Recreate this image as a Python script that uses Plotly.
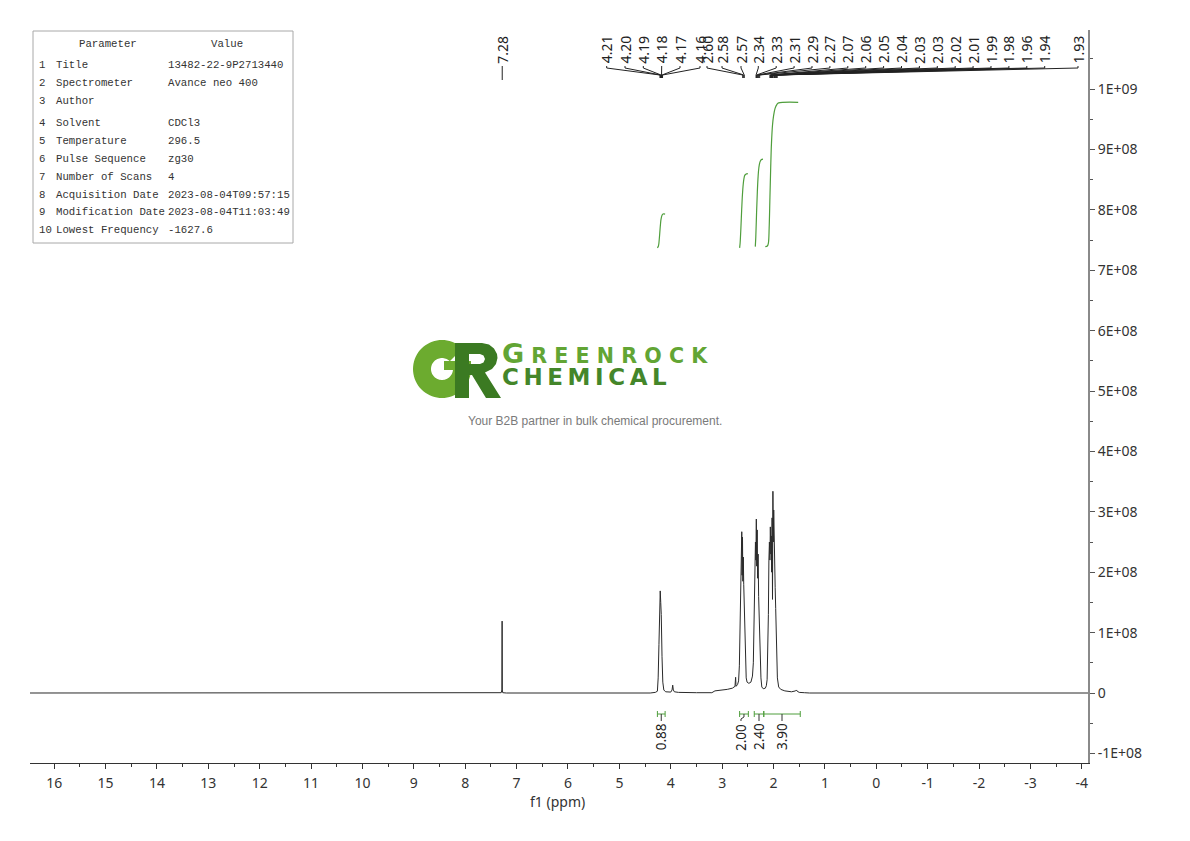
import math
import plotly.graph_objects as go

# ---------------- data ----------------
# 1H NMR trace (ppm, intensity in units of 1e8)
spec_ppm = [16.47, 7.35, 7.30, 7.287, 7.282, 7.278, 7.27, 7.20,
            4.40, 4.30, 4.26, 4.245, 4.23, 4.215, 4.205, 4.195, 4.185, 4.17, 4.155, 4.135, 4.10,
            4.00, 3.975, 3.962, 3.95, 3.93, 3.85, 3.50, 3.20, 3.14, 3.05, 2.90, 2.80, 2.75, 2.738, 2.73, 2.70, 2.68,
            2.665, 2.65, 2.638, 2.628, 2.618, 2.612, 2.604, 2.597, 2.588, 2.58, 2.572, 2.562, 2.548, 2.532, 2.515,
            2.48, 2.44, 2.41,
            2.393, 2.38, 2.365, 2.352, 2.343, 2.335, 2.327, 2.318, 2.31, 2.30, 2.29, 2.278, 2.262, 2.245, 2.228,
            2.20, 2.16, 2.14,
            2.125, 2.112, 2.10, 2.09, 2.08, 2.07, 2.062, 2.052, 2.044, 2.036, 2.028, 2.02, 2.012, 2.004, 1.996,
            1.988, 1.978, 1.968, 1.958, 1.948, 1.938, 1.925, 1.90, 1.86, 1.78, 1.65, 1.57, 1.555, 1.54, 1.50,
            1.40, 1.30, -4.12]
spec_int = [0.0, 0.0, 0.005, 0.05, 1.19, 0.05, 0.005, 0.0,
            0.0, 0.01, 0.03, 0.25, 0.8, 1.45, 1.69, 1.5, 1.3, 0.6, 0.18, 0.05, 0.02,
            0.015, 0.05, 0.13, 0.05, 0.02, 0.01, 0.005, 0.005, 0.035, 0.04, 0.06, 0.08, 0.11, 0.26, 0.11, 0.14, 0.2,
            0.45, 1.1, 1.9, 2.35, 2.67, 1.95, 2.58, 1.85, 2.25, 1.8, 1.5, 0.9, 0.45, 0.25, 0.18,
            0.16, 0.18, 0.28,
            0.5, 1.2, 2.1, 2.5, 2.2, 2.88, 2.1, 2.7, 1.9, 2.3, 1.6, 1.2, 0.6, 0.25, 0.1,
            0.07, 0.08, 0.12,
            0.22, 0.6, 1.3, 2.2, 2.5, 2.2, 2.75, 2.3, 2.6, 2.0, 2.9, 1.55, 3.34, 2.5, 3.03,
            2.3, 1.9, 1.75, 1.4, 0.9, 0.5, 0.25, 0.1, 0.06, 0.035, 0.02, 0.035, 0.05, 0.03, 0.01,
            0.005, 0.0, 0.0]

# peak picking labels (ppm)
peak_labels = ["7.28", "4.21", "4.20", "4.19", "4.18", "4.17", "4.16", "2.60", "2.58", "2.57",
               "2.34", "2.33", "2.31", "2.29", "2.27", "2.07", "2.06", "2.05", "2.04", "2.03",
               "2.03", "2.02", "2.01", "1.99", "1.98", "1.96", "1.94", "1.93"]

# integration regions
integral_start = [4.26, 2.66, 2.375, 2.19]
integral_end = [4.11, 2.49, 2.19, 1.48]
integral_labels = ["0.88", "2.00", "2.40", "3.90"]

# integral curves (ppm, value in units of 1e8 on the plot scale)
int1_ppm = [4.26, 4.24, 4.225, 4.21, 4.20, 4.19, 4.17, 4.15, 4.11]
int1_val = [7.37, 7.40, 7.50, 7.66, 7.76, 7.84, 7.91, 7.93, 7.93]
int2_ppm = [2.66, 2.65, 2.635, 2.62, 2.605, 2.59, 2.575, 2.56, 2.54, 2.50]
int2_val = [7.37, 7.45, 7.70, 8.00, 8.25, 8.42, 8.52, 8.57, 8.59, 8.60]
int3_ppm = [2.355, 2.345, 2.33, 2.315, 2.30, 2.285, 2.265, 2.24, 2.205]
int3_val = [7.39, 7.55, 7.95, 8.30, 8.55, 8.70, 8.79, 8.83, 8.84]
int4_ppm = [2.16, 2.12, 2.10, 2.085, 2.07, 2.055, 2.04, 2.02, 2.00, 1.97, 1.93, 1.90, 1.52]
int4_val = [7.39, 7.40, 7.45, 7.70, 8.20, 8.70, 9.10, 9.40, 9.55, 9.68, 9.75, 9.77, 9.78]

x_ticks = [16, 15, 14, 13, 12, 11, 10, 9, 8, 7, 6, 5, 4, 3, 2, 1, 0, -1, -2, -3, -4]
y_tick_vals = [-1e8, 0, 1e8, 2e8, 3e8, 4e8, 5e8, 6e8, 7e8, 8e8, 9e8, 1e9]
y_tick_text = ["-1E+08", "0", "1E+08", "2E+08", "3E+08", "4E+08", "5E+08",
               "6E+08", "7E+08", "8E+08", "9E+08", "1E+09"]

table_params = ["Title", "Spectrometer", "Author", "Solvent", "Temperature", "Pulse Sequence",
                "Number of Scans", "Acquisition Date", "Modification Date", "Lowest Frequency"]
table_values = ["13482-22-9P2713440", "Avance neo 400", "", "CDCl3", "296.5", "zg30", "4",
                "2023-08-04T09:57:15", "2023-08-04T11:03:49", "-1627.6"]

# ---------------- layout constants ----------------
W, H = 1190, 841
PL, PR, PT, PB = 30, 1088, 30, 763
X_RANGE = [16.47, -4.12]
Y_RANGE = [-1.159e8, 10.977e8]

# x pixel positions of peak labels (None = directly above peak)
label_px = [None, 606.7, 625, 643.3, 661.7, 680, 700, 707, 722, 741,
            758.3, 776.2, 794.1, 812, 829.9, 847.8, 865.7, 883.6, 901.5, 919.4,
            937.3, 955.2, 973.1, 991, 1008.9, 1026.8, 1044.7, 1078]
integral_label_shift_px = [0, -3, 0, 0]
table_row_y = [65.3, 83.3, 100.7, 123, 141.3, 159, 176.7, 194.7, 212.3, 230.3]

GREEN = "#4f9e3c"
FONT = "Noto Sans"


def px2ppm(px):
    return X_RANGE[0] + (px - PL) / (PR - PL) * (X_RANGE[1] - X_RANGE[0])


def ppm2px(p):
    return PL + (p - X_RANGE[0]) / (X_RANGE[1] - X_RANGE[0]) * (PR - PL)


def py2val(py):
    return Y_RANGE[0] + (PB - py) / (PB - PT) * (Y_RANGE[1] - Y_RANGE[0])


def xp(px):
    return (px - PL) / (PR - PL)


def yp(py):
    return (PB - py) / (PB - PT)


def poly(points):
    return "M " + " L ".join(f"{xp(x):.5f},{yp(y):.5f}" for x, y in points) + " Z"


fig = go.Figure()

# spectrum
fig.add_trace(go.Scatter(x=spec_ppm, y=[v * 1e8 for v in spec_int], mode="lines",
                         line=dict(color="#2a2a2a", width=1), hoverinfo="skip"))

# integral curves
for ip, iv in [(int1_ppm, int1_val), (int2_ppm, int2_val), (int3_ppm, int3_val), (int4_ppm, int4_val)]:
    fig.add_trace(go.Scatter(x=ip, y=[v * 1e8 for v in iv], mode="lines",
                             line=dict(color=GREEN, width=1.2, shape="spline"), hoverinfo="skip"))

# peak label connectors
cxs, cys = [], []
annotations = []
for lab, lx in zip(peak_labels, label_px):
    p = float(lab)
    if lx is None:
        lx = ppm2px(p)
        pts = [(px2ppm(lx), py2val(66)), (p, py2val(80))]
    else:
        pts = [(px2ppm(lx), py2val(66)), (px2ppm(lx), py2val(68)),
               (p, py2val(75)), (p, py2val(78))]
    for a, b in pts:
        cxs.append(a)
        cys.append(b)
    cxs.append(None)
    cys.append(None)
    annotations.append(dict(x=xp(lx), xref="paper", y=yp(65.5), yref="paper", text=lab,
                            textangle=-90, xanchor="center", yanchor="bottom", showarrow=False,
                            font=dict(family=FONT, size=14, color="#222")))
fig.add_trace(go.Scatter(x=cxs, y=cys, mode="lines", line=dict(color="#222", width=1),
                         hoverinfo="skip", connectgaps=False))

# integration brackets
shapes = []
for s, e, lab, sh in zip(integral_start, integral_end, integral_labels, integral_label_shift_px):
    mid = (s + e) / 2
    lab_x = px2ppm(ppm2px(mid) + sh)
    line = dict(color=GREEN, width=1)
    shapes.append(dict(type="line", xref="x", yref="paper", x0=s, x1=e, y0=yp(714), y1=yp(714), line=line))
    shapes.append(dict(type="line", xref="x", yref="paper", x0=s, x1=s, y0=yp(711), y1=yp(717), line=line))
    shapes.append(dict(type="line", xref="x", yref="paper", x0=e, x1=e, y0=yp(711), y1=yp(717), line=line))
    shapes.append(dict(type="path", xref="x", yref="paper",
                       path=f"M {mid},{yp(714)} L {mid},{yp(717)} L {lab_x},{yp(719)} L {lab_x},{yp(721)}",
                       line=dict(color="#333", width=1)))
    annotations.append(dict(x=lab_x, xref="x", y=yp(721.5), yref="paper", text=lab, textangle=-90,
                            xanchor="center", yanchor="top", showarrow=False,
                            font=dict(family=FONT, size=13.5, color="#222")))

# parameter table
shapes.append(dict(type="rect", xref="paper", yref="paper", x0=xp(33), x1=xp(293), y0=yp(243), y1=yp(31),
                   line=dict(color="#a8a8a8", width=1)))
TFONT = dict(family="Liberation Mono", size=10.7, color="#333")
annotations.append(dict(x=xp(108), xref="paper", y=yp(43.7), yref="paper", text="Parameter",
                        xanchor="center", yanchor="middle", showarrow=False, font=TFONT))
annotations.append(dict(x=xp(227), xref="paper", y=yp(43.7), yref="paper", text="Value",
                        xanchor="center", yanchor="middle", showarrow=False, font=TFONT))
for i, (pname, pval, ry) in enumerate(zip(table_params, table_values, table_row_y)):
    annotations.append(dict(x=xp(37), xref="paper", y=yp(ry), yref="paper", text=str(i + 1),
                            xanchor="left", yanchor="middle", showarrow=False, font=TFONT))
    annotations.append(dict(x=xp(54), xref="paper", y=yp(ry), yref="paper", text=pname,
                            xanchor="left", yanchor="middle", showarrow=False, font=TFONT))
    if pval:
        annotations.append(dict(x=xp(166), xref="paper", y=yp(ry), yref="paper", text=pval,
                                xanchor="left", yanchor="middle", showarrow=False, font=TFONT))

# logo (decorative): G ring + bar, R glyph as polygon
gcx, gcy, gR, gr = 442, 369, 29, 11
outer = [(gcx + gR * math.cos(math.radians(a)), gcy - gR * math.sin(math.radians(a))) for a in range(45, 361, 5)]
inner = [(gcx + gr * math.cos(math.radians(a)), gcy - gr * math.sin(math.radians(a))) for a in range(360, 44, -5)]
shapes.append(dict(type="path", xref="paper", yref="paper", path=poly(outer + inner),
                   fillcolor="#6cab2f", line=dict(width=0)))
shapes.append(dict(type="path", xref="paper", yref="paper",
                   path=poly([(gcx + 2, gcy - 8), (gcx + gR, gcy - 8), (gcx + gR, gcy + 1), (gcx + 2, gcy + 1)]),
                   fillcolor="#6cab2f", line=dict(width=0)))
r_outer = [(455, 343), (482, 343), (489, 344.5), (494, 348.5), (497, 354), (497.5, 358), (496, 364),
           (492, 369), (485, 372.5), (501, 398), (486, 398), (472, 375), (469, 375), (469, 398), (455, 398)]
r_hole = [(469, 354), (469, 364), (480, 364), (483.5, 362.5), (485, 359), (483.5, 355.5), (480, 354)]
shapes.append(dict(type="path", xref="paper", yref="paper", path=poly(r_outer) + " " + poly(r_hole),
                   fillcolor="#3b7a22", line=dict(width=0)))
annotations.append(dict(x=xp(500), xref="paper", y=yp(364), yref="paper",
                        text="<span style='font-size:27px'>G</span>"
                             "<span style='font-size:20.6px'> R E E N R O C K</span>"
                             "<br><span style='font-size:23px;color:#44862a'>"
                             "C\u2009H\u2009E\u2009M\u2009I\u2009C\u2009A\u2009L</span>",
                        xanchor="left", yanchor="middle", align="left", showarrow=False,
                        font=dict(family="DejaVu Sans", size=17, color="#62a534", weight="bold")))
annotations.append(dict(x=xp(594.5), xref="paper", y=yp(421), yref="paper",
                        text="Your B2B partner in bulk chemical procurement.",
                        xanchor="center", yanchor="middle", showarrow=False,
                        font=dict(family="Liberation Sans", size=12, color="#7a7a7a")))

# x axis title
annotations.append(dict(x=xp(557), xref="paper", y=yp(801.5), yref="paper", text="f1 (ppm)",
                        xanchor="center", yanchor="middle", showarrow=False,
                        font=dict(family=FONT, size=14, color="#333")))

fig.update_xaxes(range=X_RANGE, tickmode="array", tickvals=x_ticks, ticktext=[str(t) for t in x_ticks],
                 ticks="outside", ticklen=5, tickwidth=1, tickcolor="#333", ticklabelstandoff=2,
                 showline=True, linecolor="#333", linewidth=1, showgrid=False, zeroline=False,
                 tickfont=dict(family=FONT, size=14, color="#333"),
                 minor=dict(tickmode="array", tickvals=[t + 0.5 for t in x_ticks[1:]] + [-3.5],
                            ticks="outside", ticklen=3, tickcolor="#333"),
                 automargin=False, fixedrange=True)
fig.update_yaxes(range=Y_RANGE, side="right", tickmode="array", tickvals=y_tick_vals, ticktext=y_tick_text,
                 ticks="outside", ticklen=5, tickwidth=1, tickcolor="#555",
                 showline=True, linecolor="#8a8a8a", linewidth=2, showgrid=False, zeroline=False,
                 tickfont=dict(family=FONT, size=14, color="#333"),
                 minor=dict(tickmode="array", tickvals=[v + 5e7 for v in y_tick_vals],
                            ticks="outside", ticklen=3, tickcolor="#555"),
                 automargin=False, fixedrange=True)

fig.update_layout(width=W, height=H, margin=dict(l=PL, r=W - PR, t=PT, b=H - PB, pad=0),
                  plot_bgcolor="white", paper_bgcolor="white", showlegend=False,
                  shapes=shapes, annotations=annotations)

fig.write_html("out.html", config={"displayModeBar": False},
               post_script="document.body.style.margin='0';document.body.style.overflow='hidden';")
